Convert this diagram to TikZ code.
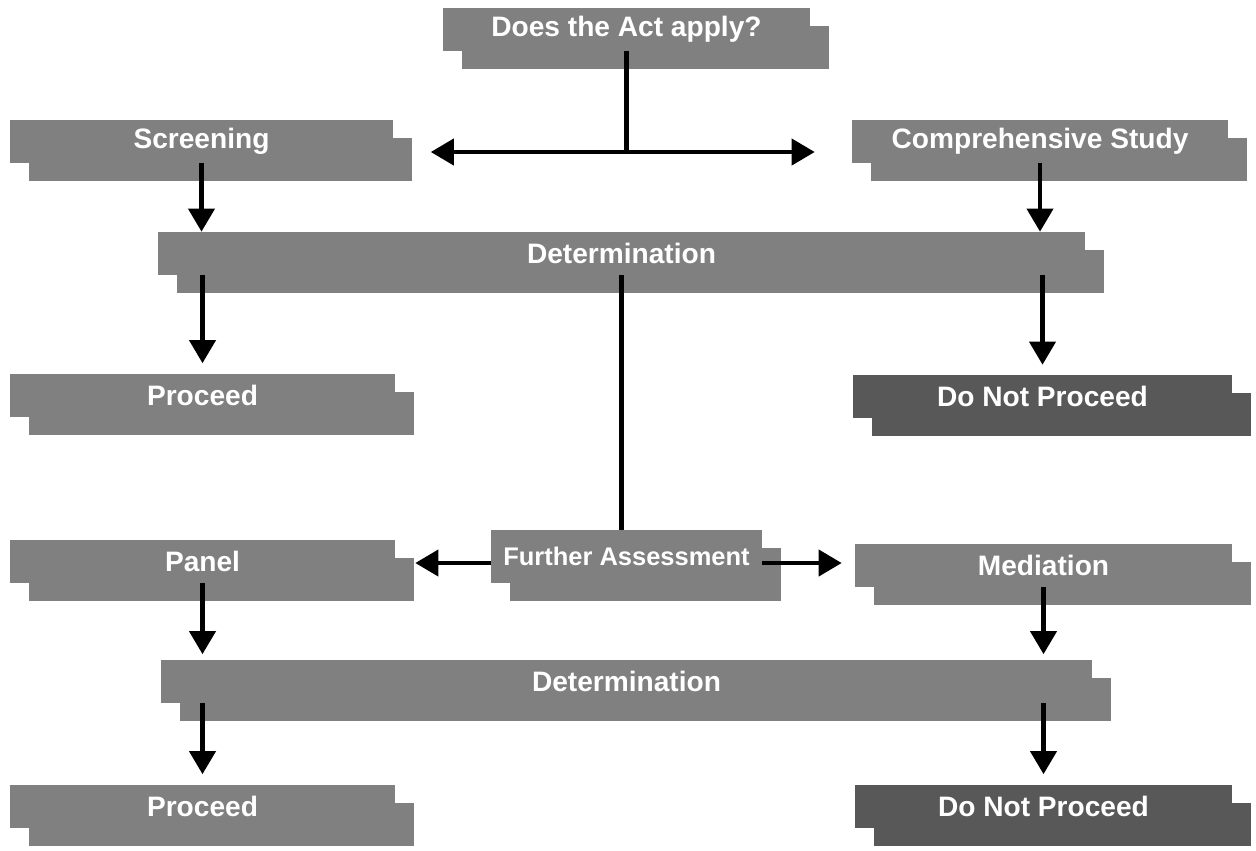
\documentclass[tikz,border=0pt]{standalone}
\usepackage{fontspec}
\setmainfont{Liberation Sans}
\usepackage{xcolor}
\definecolor{plate-gray}{RGB}{128,128,128}
\definecolor{dark-gray}{RGB}{88,88,88}
\usetikzlibrary{shadows,arrows.meta}

\begin{document}
\begin{tikzpicture}[
	x=0.02cm, y=-0.02cm,
	>={Triangle[width=0.52cm,length=0.46cm]},
	plate/.style={text=white,font=\bfseries\fontsize{16}{19}\selectfont,
		inner sep=0pt,minimum height=0.86cm},
	box/.style={plate,fill=plate-gray,
		general shadow={fill=plate-gray,shadow xshift=0.38cm,shadow yshift=-0.36cm}},
	dark/.style={plate,fill=dark-gray,
		general shadow={fill=dark-gray,shadow xshift=0.38cm,shadow yshift=-0.36cm}},
	link/.style={line width=2.3pt}
	]
	\useasboundingbox (0,0) rectangle (1256,850);
	
	\node[box,minimum width=7.34cm] (act) at (626.5,29) {Does the Act apply?};
	\node[box,minimum width=7.66cm] (scr) at (201.5,141) {Screening};
	\node[box,minimum width=7.52cm] (comp) at (1040,141.5) {Comprehensive Study};
	\node[box,minimum width=18.54cm] (det1) at (621.5,253.5) {Determination};
	\node[box,minimum width=7.7cm] (pro1) at (202.5,395) {Proceed};
	\node[dark,minimum width=7.58cm] (dnp1) at (1042.5,396.5) {Do Not Proceed};
	
	\node[box,minimum width=7.7cm] (pan) at (202.5,561.5) {Panel};
	\node[box,minimum width=5.42cm,minimum height=1.06cm,
		font=\bfseries\fontsize{14.5}{17}\selectfont] (fa) at (626.5,556.5) {Further Assessment};
	\node[box,minimum width=7.54cm] (med) at (1043.5,565) {Mediation};
	\node[box,minimum width=18.62cm] (det2) at (626.5,681) {Determination};
	\node[box,minimum width=7.7cm] (pro2) at (202.5,806) {Proceed};
	\node[dark,minimum width=7.54cm] (dnp2) at (1043.5,806) {Do Not Proceed};
	
	% first stage
	\coordinate (split) at (act.south |- 0,152);
	\draw[link] (act.south) -- (split);
	\draw[link,->,shorten >=0.75cm] (split) -- (split -| scr.east);
	\draw[link,->,shorten >=0.74cm] (split) -- (split -| comp.west);
	\draw[link,->] (scr.south) -- (scr.south |- det1.north);
	\draw[link,->] (comp.south) -- (comp.south |- det1.north);
	\draw[link,->,shorten >=0.2cm] (det1.south -| pro1.north) -- (pro1.north);
	\draw[link,->,shorten >=0.2cm] (det1.south -| dnp1.north) -- (dnp1.north);
	
	% further assessment
	\draw[link] (det1.south) -- (det1.south |- fa.north);
	\draw[link,->,shorten >=0.4cm] ([yshift=-0.13cm]fa.west) -- ([yshift=-0.13cm]fa.west -| pan.east);
	\draw[link,->,shorten >=0.26cm] ([yshift=-0.13cm]fa.east) -- ([yshift=-0.13cm]fa.east -| med.west);
	\draw[link,->,shorten >=0.1cm] (pan.south) -- (pan.south |- det2.north);
	\draw[link,->,shorten >=0.1cm] (med.south) -- (med.south |- det2.north);
	\draw[link,->,shorten >=0.2cm] (det2.south -| pro2.north) -- (pro2.north);
	\draw[link,->,shorten >=0.2cm] (det2.south -| dnp2.north) -- (dnp2.north);
\end{tikzpicture}
\end{document}
